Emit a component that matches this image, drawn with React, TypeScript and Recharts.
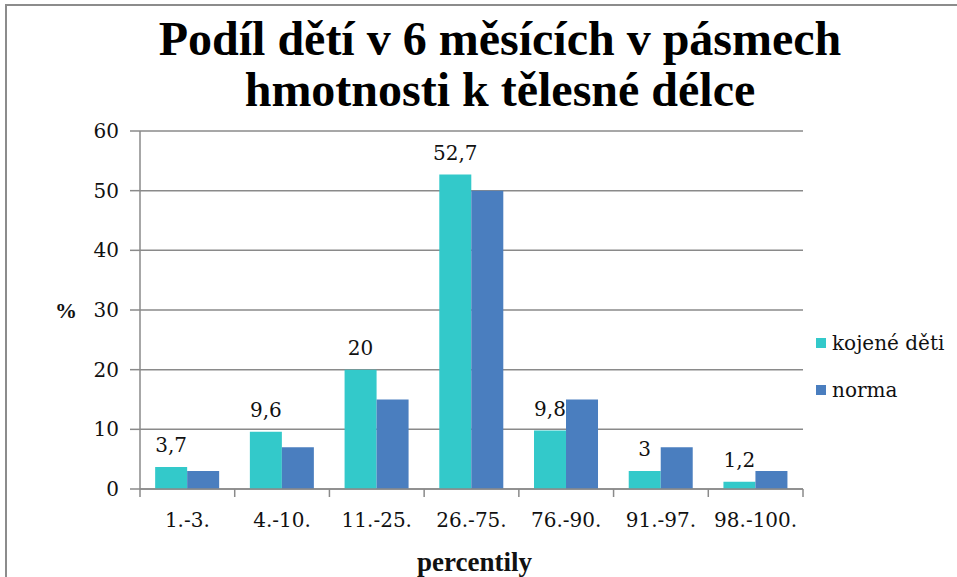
import React from 'react';
import { BarChart, Bar, XAxis, YAxis, CartesianGrid, Legend, LabelList } from 'recharts';

const CATEGORIES = ['1.-3.', '4.-10.', '11.-25.', '26.-75.', '76.-90.', '91.-97.', '98.-100.'];
const KOJENE = [3.7, 9.6, 20, 52.7, 9.8, 3, 1.2];
const NORMA = [3, 7, 15, 50, 15, 7, 3];
const Y_TICKS = [0, 10, 20, 30, 40, 50, 60];

const TEAL = '#33C9CA';
const BLUE = '#4A7EBF';
const GRID = '#8A8A8A';
const SERIF = "'Liberation Serif'";
const TEXT = "'DejaVu Serif'";

// plot box in page pixels
const PLOT_LEFT = 140;
const PLOT_RIGHT = 803;
const PLOT_TOP = 131;
const PLOT_BOTTOM = 489;
const BAND = (PLOT_RIGHT - PLOT_LEFT) / CATEGORIES.length;
const LEGEND_W = 140;

const data = CATEGORIES.map((c, i) => ({ cat: c, kojene: KOJENE[i], norma: NORMA[i] }));

const fmt = (v: number) => String(v).replace('.', ',');

function XTick(props: any) {
  const { x, payload, index } = props;
  const left = x - BAND / 2;
  return (
    <g>
      <line x1={left} x2={left} y1={PLOT_BOTTOM} y2={PLOT_BOTTOM + 8} stroke={GRID} strokeWidth={1.5} />
      {index === CATEGORIES.length - 1 && (
        <line x1={left + BAND} x2={left + BAND} y1={PLOT_BOTTOM} y2={PLOT_BOTTOM + 8} stroke={GRID} strokeWidth={1.5} />
      )}
      <text x={x} y={PLOT_BOTTOM + 38} textAnchor="middle" fontFamily={TEXT} fontSize={20} fill="#111">
        {payload.value}
      </text>
    </g>
  );
}

function LegendBox({ payload }: any) {
  return (
    <div style={{ fontFamily: TEXT, fontSize: 20, color: '#111', width: LEGEND_W }}>
      {(payload || []).map((p: any) => (
        <div key={p.value} style={{ display: 'flex', alignItems: 'center', height: 47 }}>
          <span style={{ width: 10, height: 10, background: p.color, display: 'inline-block', marginRight: 6 }} />
          <span>{p.value}</span>
        </div>
      ))}
    </div>
  );
}

export default function App() {
  return (
    <div style={{ position: 'absolute', left: 0, top: 0, width: 957, height: 577, background: '#fff', overflow: 'hidden' }}>
      <div
        style={{
          position: 'absolute',
          left: 5,
          top: 4,
          width: 960,
          height: 600,
          borderLeft: '2px solid #8c8c8c',
          borderTop: '2px solid #8c8c8c',
        }}
      />
      <div
        style={{
          position: 'absolute',
          left: 0,
          top: 13,
          width: 1000,
          textAlign: 'center',
          fontFamily: SERIF,
          fontWeight: 'bold',
          fontSize: 48,
          lineHeight: '51px',
          color: '#000',
        }}
      >
        Podíl dětí v 6 měsících v pásmech
        <br />
        hmotnosti k tělesné délce
      </div>
      <div style={{ position: 'absolute', left: 0, top: 0 }}>
        <BarChart
          width={957}
          height={577}
          data={data}
          margin={{ top: PLOT_TOP, right: 957 - PLOT_RIGHT - LEGEND_W, bottom: 577 - PLOT_BOTTOM - 30, left: PLOT_LEFT - 60 }}
          barCategoryGap="16%"
          barGap={0}
        >
          <CartesianGrid vertical={false} stroke={GRID} strokeWidth={1.5} />
          <XAxis
            dataKey="cat"
            height={30}
            stroke={GRID}
            strokeWidth={1.5}
            tickLine={false}
            tick={<XTick />}
            interval={0}
            label={{
              value: 'percentily',
              content: () => (
                <text
                  x={(PLOT_LEFT + PLOT_RIGHT) / 2 + 3}
                  y={571}
                  textAnchor="middle"
                  fontFamily={SERIF}
                  fontWeight="bold"
                  fontSize={27}
                  fill="#111"
                >
                  percentily
                </text>
              ),
            }}
          />
          <YAxis
            width={60}
            domain={[0, 60]}
            ticks={Y_TICKS}
            interval={0}
            stroke={GRID}
            strokeWidth={1.5}
            tickSize={10}
            tickMargin={11}
            tick={{ fontFamily: TEXT, fontSize: 20, fill: '#111' }}
            label={{
              value: '%',
              position: 'left',
              offset: 3,
              style: { fontFamily: SERIF, fontWeight: 'bold', fontSize: 22, fill: '#111' },
            }}
          />
          <Legend
            layout="vertical"
            verticalAlign="middle"
            align="right"
            wrapperStyle={{ left: 816, top: 319, width: LEGEND_W }}
            content={<LegendBox />}
          />
          <Bar dataKey="kojene" name="kojené děti" fill={TEAL} isAnimationActive={false}>
            <LabelList
              dataKey="kojene"
              position="top"
              offset={15}
              formatter={(v: any) => fmt(v)}
              style={{ fontFamily: TEXT, fontSize: 20, fill: '#111' }}
            />
          </Bar>
          <Bar dataKey="norma" name="norma" fill={BLUE} isAnimationActive={false} />
        </BarChart>
      </div>
    </div>
  );
}
